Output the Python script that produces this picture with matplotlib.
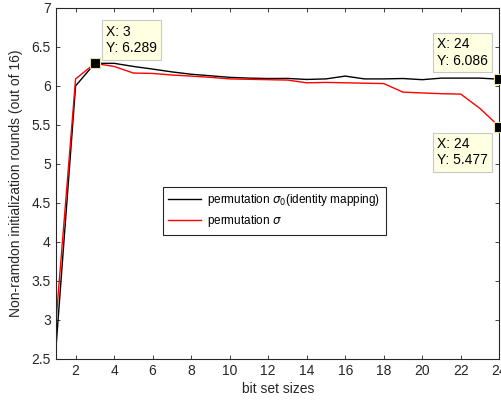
import matplotlib

matplotlib.use('Agg')
import matplotlib.pyplot as plt

plt.rcParams['font.family'] = ['Liberation Sans', 'DejaVu Sans']
plt.rcParams['mathtext.fontset'] = 'dejavusans'

# bit set sizes
bits = list(range(1, 25))
# permutation sigma_0 (identity mapping)
identity_rounds = [2.70, 6.00, 6.289, 6.290, 6.25, 6.216, 6.18, 6.15, 6.13, 6.11,
                   6.10, 6.095, 6.096, 6.083, 6.09, 6.126, 6.09, 6.09, 6.095, 6.08,
                   6.10, 6.10, 6.10, 6.086]
# permutation sigma
sigma_rounds = [3.03, 6.09, 6.289, 6.25, 6.165, 6.16, 6.14, 6.126, 6.11, 6.09,
                6.085, 6.08, 6.075, 6.04, 6.045, 6.04, 6.035, 6.03, 5.92, 5.91,
                5.90, 5.895, 5.71, 5.477]
xticks = list(range(2, 25, 2))
yticks = [2.5, 3, 3.5, 4, 4.5, 5, 5.5, 6, 6.5, 7]

# data tips: (x, y, offset in pixels, ha, va)
tips = [(3, 6.289, (11, 8), 'left', 'bottom'),
        (24, 6.086, (-11, 11), 'right', 'bottom'),
        (24, 5.477, (-11, -10), 'right', 'top')]

axis_col = '#262626'

fig = plt.figure(figsize=(5.02, 4.03), dpi=100)
ax = fig.add_axes([0.1122, 0.1099, 0.8824, 0.8703])

ax.plot(bits, identity_rounds, color='black', lw=1.0,
        label=r'permutation $\sigma_0$(identity mapping)')
ax.plot(bits, sigma_rounds, color='red', lw=1.0, label=r'permutation $\sigma$')

ax.set_xlim(1, 24)
ax.set_ylim(2.5, 7)
ax.set_xticks(xticks)
ax.set_yticks(yticks)
ax.set_yticklabels([f'{v:g}' for v in yticks])
ax.tick_params(direction='in', top=True, right=True, length=3, width=0.6,
               labelsize=10, colors=axis_col, pad=4)
for sp in ax.spines.values():
    sp.set_color(axis_col)
    sp.set_linewidth(0.8)

ax.set_xlabel('bit set sizes', fontsize=10, color=axis_col, labelpad=3)
ax.set_ylabel('Non-ramdon initialization rounds (out of 16)', fontsize=10,
              color=axis_col, labelpad=6)

leg = ax.legend(loc='upper left', bbox_to_anchor=(0.241, 0.49), borderaxespad=0,
                fontsize=8.5, fancybox=False, framealpha=1, edgecolor=axis_col,
                handlelength=2.8, handletextpad=0.5, borderpad=0.45, labelspacing=0.45)
leg.get_frame().set_linewidth(0.8)

for tx, ty, off, ha, va in tips:
    ax.plot([tx], [ty], marker='s', color='black', markersize=7,
            markeredgecolor='#e8e0b0', markeredgewidth=0.8, clip_on=False, zorder=5)
    xs = f'{tx:g}'
    ax.annotate(f'X: {xs}\nY: {ty:.3f}', xy=(tx, ty), xytext=off,
                textcoords='offset pixels', ha=ha, va=va, multialignment='left',
                fontsize=10, color='black', linespacing=1.25, zorder=6,
                bbox=dict(boxstyle='square,pad=0.3', facecolor='#ffffe1',
                          edgecolor='#c8c8c8', linewidth=0.8))

plt.savefig('out.png', dpi=100)
plt.close(fig)
